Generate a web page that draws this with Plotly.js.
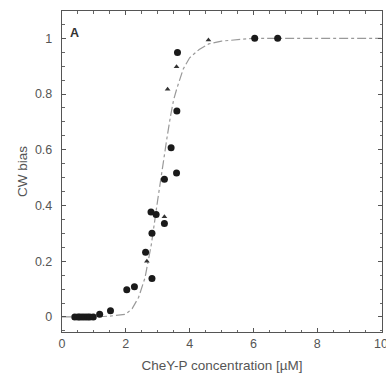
<!DOCTYPE html>
<html><head><meta charset="utf-8">
<script src="https://cdn.plot.ly/plotly-3.0.1.min.js"></script>
<style>body{margin:0;background:#fff}#c{width:386px;height:377px}</style>
</head><body><div id="c"></div>
<script>
// Measured data: filled circles
const circX = [0.40,0.50,0.56,0.64,0.72,0.80,0.87,0.98,1.18,1.52,2.03,2.27,2.62,2.79,2.82,2.82,2.95,3.21,3.21,3.42,3.59,3.60,3.62,6.04,6.76];
const circY = [0.00,0.00,0.00,0.00,0.00,0.00,0.00,0.00,0.01,0.022,0.098,0.108,0.232,0.377,0.30,0.138,0.368,0.335,0.494,0.607,0.517,0.739,0.949,1.0,1.0];
// Small triangles
const triX = [2.66,3.21,3.31,3.59,4.59];
const triY = [0.20,0.36,0.817,0.898,0.994];
// Fitted curve
const fitX = [0,1.0,1.5,1.8,2.0,2.2,2.4,2.6,2.8,3.0,3.1,3.2,3.3,3.4,3.5,3.6,3.8,4.0,4.3,4.6,5.0,6.0,8.0,10.0];
const fitY = [0,0,0.003,0.006,0.01,0.03,0.07,0.14,0.26,0.42,0.5,0.58,0.65,0.72,0.78,0.82,0.89,0.93,0.96,0.98,0.99,1.0,1.0,1.0];
const xTicks = [0,2,4,6,8,10];
const yTicks = [0,0.2,0.4,0.6,0.8,1];
const yTickText = ['0','0.2','0.4','0.6','0.8','1'];

const font = {family:'Liberation Sans, Arial, sans-serif', size:12.5, color:'#555'};
const titleFont = {family:font.family, size:13.5, color:'#555'};
const data = [
  {x:fitX, y:fitY, mode:'lines', line:{color:'#999', width:1.2, dash:'dashdot'}, hoverinfo:'skip'},
  {x:circX, y:circY, mode:'markers', marker:{symbol:'circle', size:7, color:'#1a1a1a'}},
  {x:triX, y:triY, mode:'markers', marker:{symbol:'triangle-up', size:5, color:'#333'}}
];
const axBase = {showgrid:false, zeroline:false, showline:true, linecolor:'#555', linewidth:1.2,
  mirror:'allticks', ticks:'inside', ticklen:4, tickcolor:'#555', tickfont:font, automargin:false};
const layout = {
  width:386, height:377, showlegend:false,
  margin:{l:62, r:4, t:11, b:45},
  paper_bgcolor:'#fff', plot_bgcolor:'#fff',
  xaxis:Object.assign({}, axBase, {range:[0,10.03], tickvals:xTicks, ticktext:xTicks.map(String),
    ticklabeloverflow:'allow',
    minor:{dtick:0.5, ticks:'inside', ticklen:2.5, tickcolor:'#666'},
    ticklabelstandoff:0,
    title:{text:'CheY-P concentration [µM]', font:titleFont, standoff:10}}),
  yaxis:Object.assign({}, axBase, {range:[-0.054,1.098], tickvals:yTicks, ticktext:yTickText,
    minor:{dtick:0.05, ticks:'inside', ticklen:2.5, tickcolor:'#666'},
    ticklabelstandoff:6,
    title:{text:'CW bias', font:titleFont, standoff:4}}),
  annotations:[{text:'<b>A</b>', x:0.02, y:0.96, xref:'paper', yref:'paper', xanchor:'left', yanchor:'top',
    showarrow:false, font:{family:font.family, size:12.5, color:'#333'}}]
};
Plotly.newPlot('c', data, layout, {displayModeBar:false, staticPlot:true});
</script></body></html>
